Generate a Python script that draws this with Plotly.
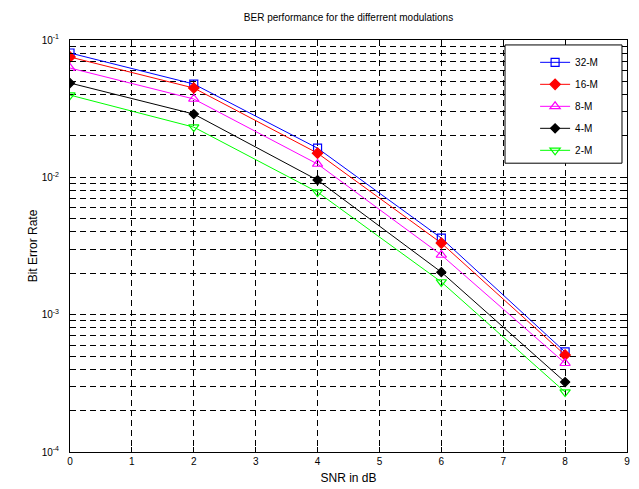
import plotly.graph_objects as go

snr = [0, 2, 4, 6, 8]
ber_32 = [0.0804, 0.0478, 0.0163, 0.00361, 0.000535]
ber_16 = [0.0752, 0.0447, 0.0150, 0.00332, 0.000508]
ber_8 = [0.0625, 0.0372, 0.0125, 0.00272, 0.000443]
ber_4 = [0.0486, 0.0289, 0.00955, 0.00204, 0.000323]
ber_2 = [0.0397, 0.0232, 0.00781, 0.00173, 0.000273]
names = ["32-M", "16-M", "8-M", "4-M", "2-M"]
ytick_vals = [1e-4, 1e-3, 1e-2, 1e-1]
ytick_text = ["10<sup>-4</sup>", "10<sup>-3</sup>", "10<sup>-2</sup>", "10<sup>-1</sup>"]

series = [ber_32, ber_16, ber_8, ber_4, ber_2]
colors = ["#0000ff", "#ff0000", "#ff00ff", "#000000", "#00ff00"]
symbols = ["square-open", "diamond", "triangle-up-open", "diamond", "triangle-down-open"]
sizes = [8, 8, 9, 7, 9]

fig = go.Figure()
for nm, ys, c, s, sz in zip(names, series, colors, symbols, sizes):
    fig.add_trace(go.Scatter(
        x=snr, y=ys, name=nm, mode="lines+markers", legendgroup=nm,
        line=dict(color=c, width=1),
        marker=dict(symbol=s, size=sz, color=c, line=dict(color=c, width=1.2)),
    ))

font = dict(family="Liberation Sans, Arial, sans-serif", size=10, color="black")
grid = dict(showgrid=True, gridcolor="black", griddash="6px,4px", gridwidth=1)

# legend frame (white box with black border) drawn as a paper-space shape
fig.add_shape(type="rect", xref="paper", yref="paper",
              x0=0.781, x1=0.991, y0=0.701, y1=0.988,
              fillcolor="white", line=dict(color="black", width=1), layer="above")

fig.update_layout(
    width=639, height=489,
    margin=dict(l=70, r=12, t=40, b=37),
    paper_bgcolor="white", plot_bgcolor="white",
    font=font,
    title=dict(text="BER performance for the differrent modulations",
               x=0.5, xanchor="center", xref="paper", y=0.965, yanchor="middle",
               font=dict(size=10)),
    showlegend=True,
    legend=dict(x=0.835, xanchor="left", y=0.981, yanchor="top",
                bgcolor="rgba(0,0,0,0)", borderwidth=0,
                font=dict(size=10), tracegroupgap=3),
    xaxis=dict(range=[0, 9], dtick=1, tick0=0, showline=True, linecolor="black",
               linewidth=1, mirror="ticks", ticks="inside", ticklen=5,
               tickcolor="black", zeroline=False, automargin=False,
               title=dict(text="SNR in dB", standoff=7), **grid),
    yaxis=dict(type="log", range=[-4, -1], tickvals=ytick_vals, ticktext=ytick_text,
               showline=True, linecolor="black", linewidth=1, mirror="ticks",
               ticks="inside", ticklen=5, tickcolor="black", zeroline=False,
               automargin=False, ticklabelstandoff=8,
               title=dict(text="Bit Error Rate", standoff=1),
               minor=dict(dtick="D1", ticks="inside", ticklen=3, tickcolor="black",
                          showgrid=True, gridcolor="black", griddash="6px,4px", gridwidth=1),
               **grid),
)

fig.write_html("out.html", config={"displayModeBar": False},
               post_script="document.body.style.margin='0';")
